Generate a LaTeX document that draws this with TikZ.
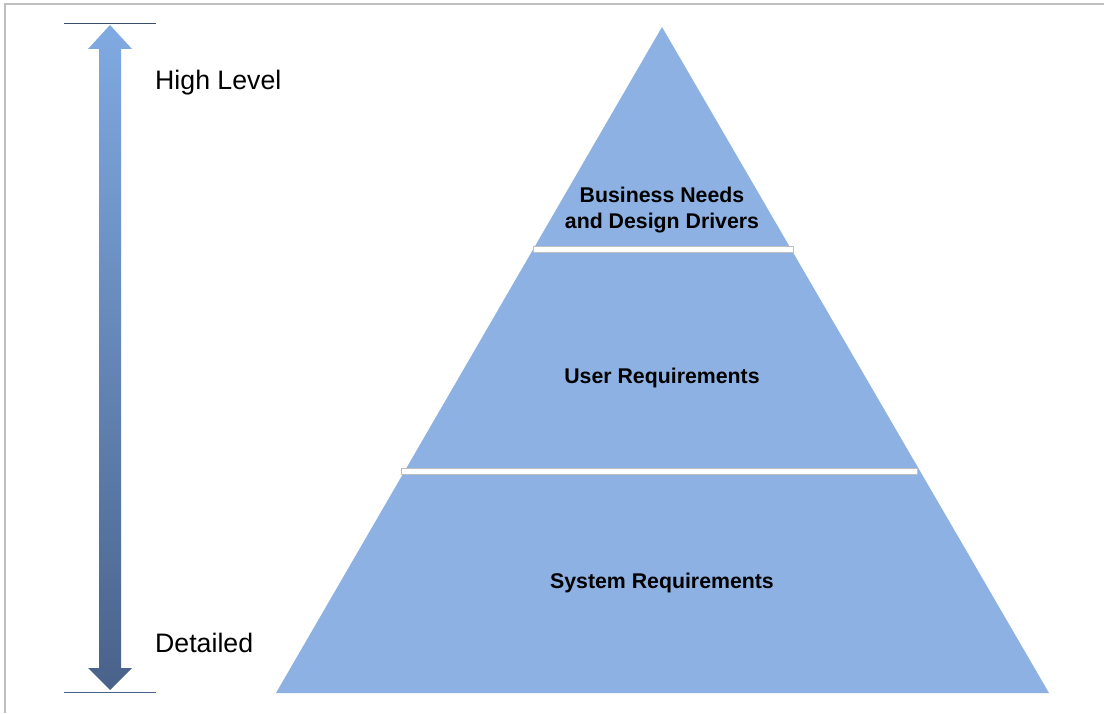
\documentclass[tikz,border=0pt]{standalone}
\usepackage{fontspec}
\setmainfont{Liberation Sans}
\definecolor{pyrblue}{HTML}{8DB1E3}
\definecolor{arrowtop}{HTML}{80AAE2}
\definecolor{arrowbot}{HTML}{49628A}
\definecolor{edgegray}{HTML}{BFBFBF}
\begin{document}
\begin{tikzpicture}[x=1pt, y=1pt,
  level/.style={font=\fontsize{21.3}{26.5}\selectfont\bfseries, align=center, inner sep=0pt},
  side/.style={font=\fontsize{26.7}{32}\selectfont, anchor=west, inner sep=0pt},
  bar/.style={draw=edgegray, line width=0.6pt, fill=white}]
\useasboundingbox (0, 0) rectangle (1104, 713);
\fill[white] (0, 0) rectangle (1104, 713);

\draw[edgegray, line width=1.5pt] (5, 0) -- (5, 709) -- (1104, 709);

\fill[pyrblue] (276, 20) -- (662, 686) -- (1049, 20) -- cycle;
\draw[bar] (533, 461) rectangle (793, 467);
\draw[bar] (401, 239) rectangle (917, 245);

\node[level] (business) at (662, 503) {Business Needs\\and Design Drivers};
\node[level] (user) at (662, 335) {User Requirements};
\node[level] (system) at (662, 130) {System Requirements};

\shade[top color=arrowtop, bottom color=arrowbot]
  (110, 688) -- (132, 664) -- (121, 664) -- (121, 45) -- (132, 45)
  -- (110, 23) -- (88, 45) -- (99, 45) -- (99, 664) -- (88, 664) -- cycle;
\draw[arrowbot!80!black, line width=1pt] (64, 689) -- (156, 689);
\draw[arrowbot, line width=1pt] (64, 21) -- (156, 21);

\node[side] (high) at (155, 630) {High Level};
\node[side] (detail) at (155, 70) {Detailed};
\end{tikzpicture}
\end{document}
